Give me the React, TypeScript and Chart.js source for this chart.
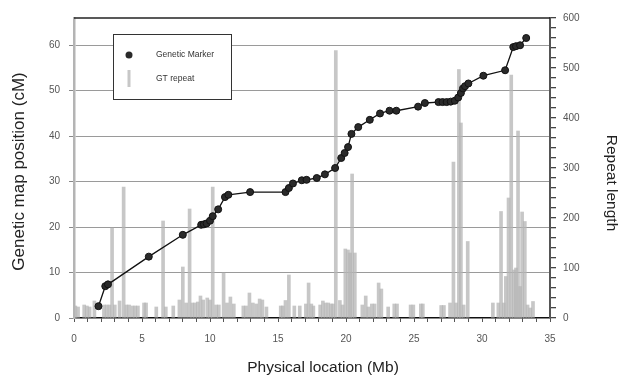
import { useEffect, useRef } from 'react';
import { Chart, registerables } from 'chart.js';

Chart.register(...registerables);

// Genetic markers: physical location (Mb) vs genetic map position (cM)
const markerMb = [
  1.8, 2.3, 2.5, 5.5, 8.0, 9.35, 9.55, 9.75, 10.0, 10.2, 10.6, 11.1, 11.35, 12.95, 15.55,
  15.8, 16.1, 16.75, 17.1, 17.85, 18.45, 19.2, 19.65, 19.9, 20.15, 20.4, 20.9, 21.75, 22.5,
  23.2, 23.7, 25.3, 25.8, 26.8, 27.1, 27.4, 27.7, 28.0, 28.25, 28.45, 28.6, 28.75, 29.0,
  30.1, 31.7, 32.3, 32.5, 32.8, 33.25,
];
const markerCm = [
  2.6, 7.0, 7.4, 13.5, 18.3, 20.5, 20.6, 20.8, 21.4, 22.4, 23.9, 26.6, 27.1, 27.7, 27.7,
  28.6, 29.6, 30.3, 30.4, 30.8, 31.6, 33.0, 35.2, 36.3, 37.6, 40.5, 42.0, 43.6, 45.0,
  45.6, 45.6, 46.5, 47.3, 47.5, 47.5, 47.5, 47.6, 47.8, 48.5, 49.5, 50.5, 51.0, 51.6,
  53.3, 54.5, 59.6, 59.8, 60.0, 61.6,
];

// GT repeats: physical location (Mb) vs repeat length
const repeatMb = [
  0.1, 0.3, 0.75, 0.95, 1.15, 1.5, 2.2, 2.4, 2.6, 2.8, 3.0, 3.35, 3.65, 3.85, 4.05, 4.3, 4.5,
  4.7, 5.15, 5.3, 6.05, 6.55, 6.75, 7.3, 7.75, 8.0, 8.25, 8.5, 8.7, 8.9, 9.1, 9.3, 9.5, 9.8,
  10.0, 10.2, 10.45, 10.65, 11.0, 11.25, 11.5, 11.75, 12.45, 12.65, 12.9, 13.15, 13.4, 13.65,
  13.85, 14.15, 15.2, 15.35, 15.55, 15.8, 16.2, 16.6, 17.05, 17.25, 17.45, 17.6, 18.1, 18.3,
  18.5, 18.7, 18.9, 19.05, 19.25, 19.55, 19.75, 19.95, 20.15, 20.3, 20.45, 20.65, 21.2, 21.45,
  21.65, 21.9, 22.1, 22.4, 22.6, 23.1, 23.55, 23.75, 24.75, 24.95, 25.5, 25.65, 27.0, 27.2,
  27.65, 27.9, 28.1, 28.3, 28.45, 28.65, 28.95, 30.8, 31.2, 31.4, 31.6, 31.75, 31.95, 32.15,
  32.35, 32.5, 32.65, 32.8, 32.95, 33.15, 33.35, 33.55, 33.75,
];
const repeatLength = [
  24, 22, 26, 24, 22, 34, 26, 26, 26, 180, 26, 34, 262, 26, 26, 24, 24,
  24, 30, 30, 22, 194, 22, 24, 36, 102, 30, 218, 30, 30, 32, 44, 36, 40,
  36, 262, 26, 26, 90, 30, 42, 28, 24, 24, 50, 30, 28, 38,
  36, 22, 24, 24, 35, 86, 24, 24, 28, 70, 28, 24, 26, 34,
  30, 30, 28, 28, 535, 35, 26, 138, 136, 130, 288, 130, 26, 44,
  22, 28, 28, 70, 58, 22, 28, 28, 26, 26, 28, 28, 25, 25,
  30, 312, 30, 497, 390, 26, 153, 30, 30, 213, 30, 83, 240, 486,
  96, 100, 374, 63, 212, 193, 26, 20, 33,
];

const FONT = "'Liberation Sans', Arial, Helvetica, sans-serif";

const overlayPlugin = {
  id: 'overlay',
  afterDraw(chart: any) {
    const { ctx, chartArea } = chart;
    ctx.save();
    // top frame line
    ctx.strokeStyle = '#222';
    ctx.lineWidth = 1.5;
    ctx.beginPath();
    ctx.moveTo(chartArea.left, chartArea.top);
    ctx.lineTo(chartArea.right, chartArea.top);
    ctx.stroke();

    // legend box
    ctx.fillStyle = '#ffffff';
    ctx.fillRect(113, 34, 118, 65);
    ctx.strokeStyle = '#333';
    ctx.lineWidth = 1;
    ctx.strokeRect(113.5, 34.5, 118, 65);
    ctx.fillStyle = '#2a2a2a';
    ctx.beginPath();
    ctx.arc(129, 55, 3.5, 0, Math.PI * 2);
    ctx.fill();
    ctx.fillStyle = 'rgba(180,180,180,0.75)';
    ctx.fillRect(127.5, 70, 3, 17);
    ctx.fillStyle = '#333';
    ctx.font = `8.5px ${FONT}`;
    ctx.textAlign = 'left';
    ctx.textBaseline = 'middle';
    ctx.fillText('Genetic Marker', 156, 55);
    ctx.fillText('GT repeat', 156, 79);

    // axis titles
    ctx.fillStyle = '#222';
    ctx.textAlign = 'center';
    ctx.textBaseline = 'middle';
    ctx.font = `15.5px ${FONT}`;
    ctx.fillText('Physical location (Mb)', 323, 368);
    ctx.save();
    ctx.translate(19, 171.5);
    ctx.rotate(-Math.PI / 2);
    ctx.font = `17px ${FONT}`;
    ctx.fillText('Genetic map position (cM)', 0, 0);
    ctx.restore();
    ctx.save();
    ctx.translate(611, 183);
    ctx.rotate(Math.PI / 2);
    ctx.font = `15.5px ${FONT}`;
    ctx.fillText('Repeat length', 0, 0);
    ctx.restore();
    ctx.restore();
  },
};

export default function App() {
  const canvasRef = useRef<HTMLCanvasElement | null>(null);

  useEffect(() => {
    if (!canvasRef.current) return;
    const lineData = markerMb.map((x, i) => ({ x, y: markerCm[i] }));
    const barData = repeatMb.map((x, i) => ({ x, y: repeatLength[i] }));

    const chart = new Chart(canvasRef.current, {
      type: 'bar',
      data: {
        datasets: [
          {
            type: 'line',
            label: 'Genetic Marker',
            data: lineData,
            xAxisID: 'x',
            yAxisID: 'y',
            borderColor: '#111',
            borderWidth: 1.3,
            pointRadius: 3.5,
            pointBackgroundColor: '#2a2a2a',
            pointBorderColor: '#111',
            pointBorderWidth: 1,
            tension: 0,
            order: 0,
          } as any,
          {
            type: 'bar',
            label: 'GT repeat',
            data: barData,
            xAxisID: 'x',
            yAxisID: 'y2',
            backgroundColor: 'rgba(180,180,180,0.75)',
            borderWidth: 0,
            barThickness: 3,
            order: 1,
          } as any,
        ],
      },
      options: {
        animation: false,
        responsive: false,
        layout: { padding: { top: 18, left: 0, right: 0, bottom: 0 } },
        plugins: { legend: { display: false }, tooltip: { enabled: false } },
        scales: {
          x: {
            type: 'linear',
            position: 'bottom',
            min: 0,
            max: 35,
            offset: false,
            afterFit: (s: any) => { s.height = 59; },
            ticks: {
              stepSize: 1,
              autoSkip: false,
              maxRotation: 0,
              padding: 11,
              color: '#555',
              font: { family: FONT, size: 10 },
              callback: (v: any) => (Number(v) % 5 === 0 ? String(v) : ''),
            },
            grid: { drawOnChartArea: false, offset: false, tickLength: 4, tickColor: '#555' },
            border: { color: '#111', width: 1.5 },
          },
          y: {
            type: 'linear',
            position: 'left',
            min: 0,
            max: 66,
            afterFit: (s: any) => { s.width = 74; },
            ticks: {
              stepSize: 10,
              autoSkip: false,
              padding: 9,
              color: '#555',
              font: { family: FONT, size: 10 },
              callback: (v: any) => (Number(v) % 10 === 0 ? String(v) : ''),
            },
            grid: {
              tickLength: 5,
              lineWidth: 1,
              color: (c: any) => (c.tick && c.tick.value > 0 && c.tick.value % 10 === 0 ? '#9a9a9a' : 'rgba(0,0,0,0)'),
              tickColor: (c: any) => (c.tick && c.tick.value % 10 === 0 ? '#888' : 'rgba(0,0,0,0)'),
            },
            border: { color: '#b4b4b4', width: 2.5 },
          },
          y2: {
            type: 'linear',
            position: 'right',
            min: 0,
            max: 600,
            afterFit: (s: any) => { s.width = 69; },
            ticks: {
              stepSize: 20,
              autoSkip: false,
              padding: 7,
              color: '#555',
              font: { family: FONT, size: 10 },
              callback: (v: any) => (Number(v) % 100 === 0 ? String(v) : ''),
            },
            grid: { drawOnChartArea: false, tickLength: 6, tickColor: '#444', lineWidth: 1.3 },
            border: { color: '#555', width: 2 },
          },
        },
      },
      plugins: [overlayPlugin],
    });
    return () => chart.destroy();
  }, []);

  return (
    <div style={{ position: 'absolute', left: 0, top: 0, width: 619, height: 377, background: '#fff' }}>
      <canvas ref={canvasRef} width={619} height={377} style={{ display: 'block' }} />
    </div>
  );
}
